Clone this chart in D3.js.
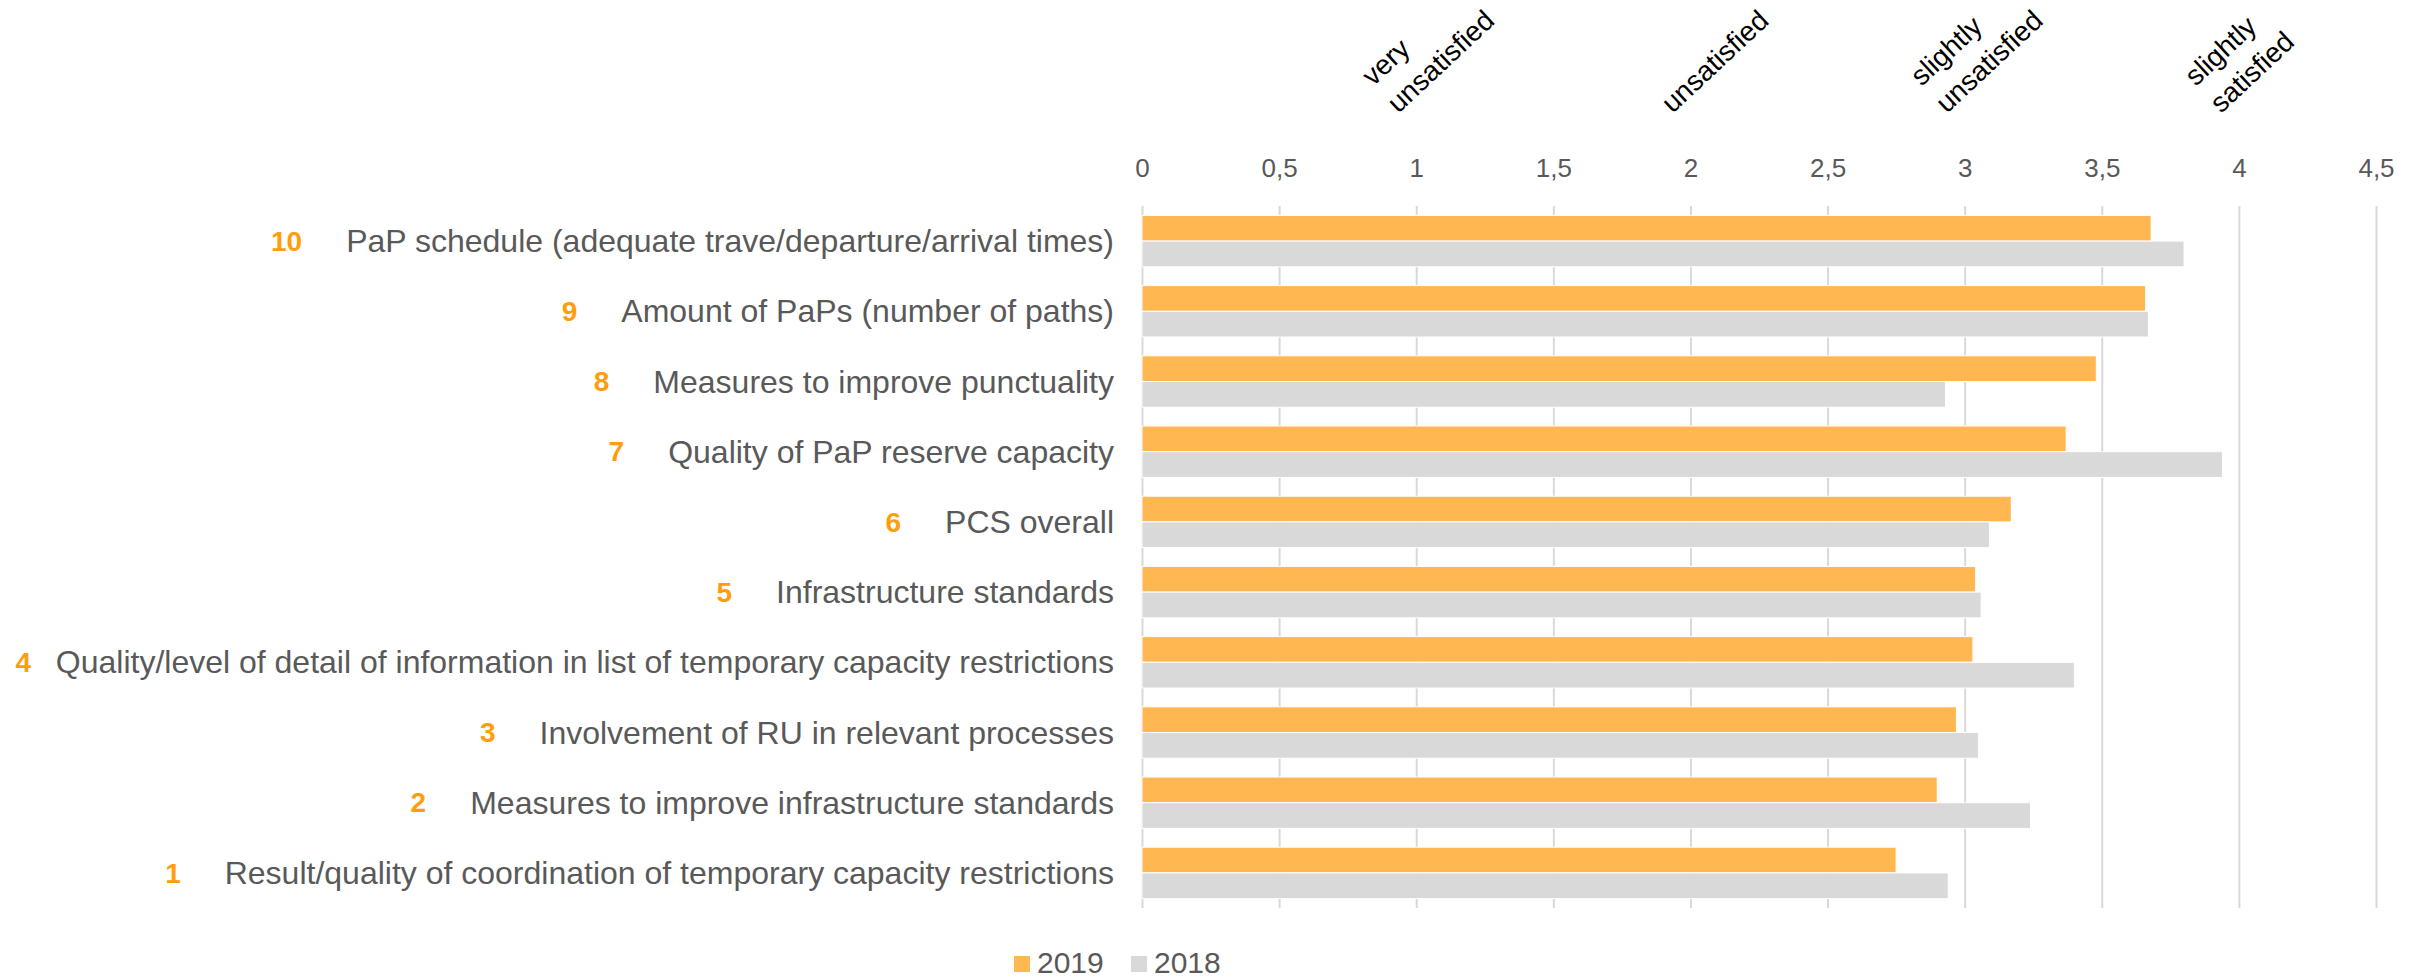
<!DOCTYPE html>
<html>
<head>
<meta charset="utf-8">
<script src="https://cdn.jsdelivr.net/npm/d3@7"></script>
<style>
  body { margin: 0; background: #fff; }
  text { font-family: "Liberation Sans", Arial, sans-serif; }
</style>
</head>
<body>
<div id="chart"></div>
<script>
// categories, top to bottom
var catNumbers = ["10", "9", "8", "7", "6", "5", "4", "3", "2", "1"];
var catLabels = [
  "PaP schedule (adequate trave/departure/arrival times)",
  "Amount of PaPs (number of paths)",
  "Measures to improve punctuality",
  "Quality of PaP reserve capacity",
  "PCS overall",
  "Infrastructure standards",
  "Quality/level of detail of information in list of temporary capacity restrictions",
  "Involvement of RU in relevant processes",
  "Measures to improve infrastructure standards",
  "Result/quality of coordination of temporary capacity restrictions"
];
var values2019 = [3.68, 3.66, 3.48, 3.37, 3.17, 3.04, 3.03, 2.97, 2.90, 2.75];
var values2018 = [3.80, 3.67, 2.93, 3.94, 3.09, 3.06, 3.40, 3.05, 3.24, 2.94];
var seriesNames = ["2019", "2018"];
var tickValues = [0, 0.5, 1, 1.5, 2, 2.5, 3, 3.5, 4, 4.5];
var ratingValues = [1, 2, 3, 4];
var ratingLabels = [["very", "unsatisfied"], ["unsatisfied"], ["slightly", "unsatisfied"], ["slightly", "satisfied"]];

var width = 2428, height = 978;
var plot = { left: 1142, right: 2376, top: 206, bottom: 908 };
var colors = { "2019": "#FFB752", "2018": "#D9D9D9" };

var svg = d3.select("#chart").append("svg")
  .attr("width", width)
  .attr("height", height);

var x = d3.scaleLinear().domain([0, 4.5]).range([plot.left, plot.right]);
var y = d3.scaleBand().domain(catLabels).range([plot.top, plot.bottom])
  .paddingInner(0.268).paddingOuter(0.134);
var ySub = d3.scaleBand().domain(seriesNames).range([0, y.bandwidth()]);

function fmt(d) { return String(d).replace(".", ","); }

// gridlines
var grid = svg.append("g")
  .attr("transform", "translate(0," + plot.top + ")")
  .call(d3.axisBottom(x).tickValues(tickValues).tickSize(plot.bottom - plot.top).tickFormat(""));
grid.select(".domain").remove();
grid.selectAll("line").attr("stroke", "#D9D9D9").attr("stroke-width", 2);

// top tick labels
var topAxis = svg.append("g")
  .attr("transform", "translate(0,177)")
  .call(d3.axisTop(x).tickValues(tickValues).tickSize(0).tickPadding(0).tickFormat(fmt));
topAxis.select(".domain").remove();
topAxis.selectAll("text")
  .attr("font-family", "Liberation Sans, Arial, sans-serif")
  .attr("font-size", 26)
  .attr("fill", "#595959");

// rotated rating labels
var rating = svg.append("g").selectAll("g")
  .data(ratingValues)
  .enter().append("g")
  .attr("transform", function(d) { return "translate(" + (x(d) - 18) + ",114) rotate(-43)"; });
rating.each(function(d, i) {
  var lines = ratingLabels[i];
  var t = d3.select(this).append("text")
    .attr("font-size", 28)
    .attr("fill", "#000");
  lines.forEach(function(l, j) {
    t.append("tspan")
      .attr("x", 0)
      .attr("y", -(lines.length - 1 - j) * 37)
      .text(l);
  });
});

// bars
var groups = svg.append("g").selectAll("g")
  .data(catLabels)
  .enter().append("g")
  .attr("transform", function(d) { return "translate(0," + y(d) + ")"; });

groups.append("rect")
  .attr("x", x(0))
  .attr("y", ySub("2019"))
  .attr("height", ySub.bandwidth())
  .attr("width", function(d, i) { return x(values2019[i]) - x(0); })
  .attr("fill", colors["2019"])
  .attr("stroke", "#fff").attr("stroke-width", 1);

groups.append("rect")
  .attr("x", x(0))
  .attr("y", ySub("2018"))
  .attr("height", ySub.bandwidth())
  .attr("width", function(d, i) { return x(values2018[i]) - x(0); })
  .attr("fill", colors["2018"])
  .attr("stroke", "#fff").attr("stroke-width", 1);

// category labels + numbers
var labelX = 1114;
groups.each(function(d, i) {
  var g = d3.select(this);
  var cy = y.bandwidth() / 2;
  var lab = g.append("text")
    .attr("x", labelX)
    .attr("y", cy)
    .attr("dy", "0.35em")
    .attr("text-anchor", "end")
    .attr("font-size", 32)
    .attr("fill", "#595959")
    .text(d);
  var w = lab.node().getComputedTextLength();
  // keep the number inside the picture for the longest label
  var numRight = Math.max(labelX - w - 44, 31);
  g.append("text")
    .attr("x", numRight)
    .attr("y", cy)
    .attr("dy", "0.35em")
    .attr("text-anchor", "end")
    .attr("font-size", 28)
    .attr("font-weight", "bold")
    .attr("fill", "#FF9D0F")
    .text(catNumbers[i]);
});

// legend
var legend = svg.append("g").attr("transform", "translate(1014,956)");
var legendX = [0, 117];
seriesNames.forEach(function(s, i) {
  legend.append("rect")
    .attr("x", legendX[i]).attr("y", 0)
    .attr("width", 16).attr("height", 16)
    .attr("fill", colors[s]);
  legend.append("text")
    .attr("x", legendX[i] + 23).attr("y", 17)
    .attr("font-size", 30)
    .attr("fill", "#595959")
    .text(s);
});
</script>
</body>
</html>
